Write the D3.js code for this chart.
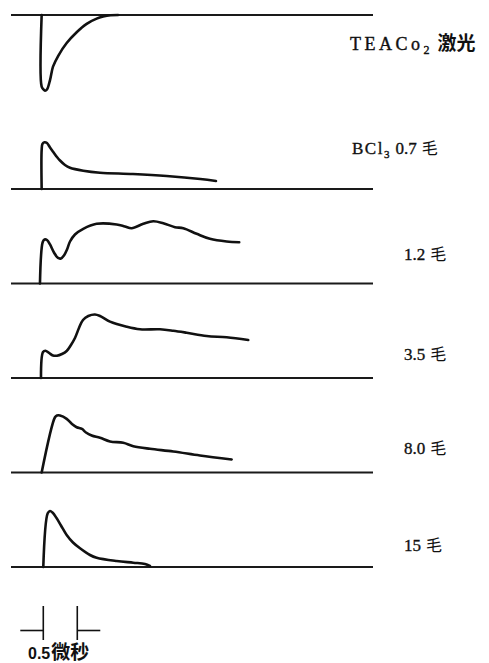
<!DOCTYPE html>
<html>
<head>
<meta charset="utf-8">
<script src="https://cdn.jsdelivr.net/npm/d3@7"></script>
<style>
  body { margin: 0; background: #fff; }
</style>
</head>
<body>
<svg id="svg1"></svg>
<script>
// time in microseconds, amplitude in arbitrary units (0..100)
const laserTrace = [[-0.024,0],[-0.024,-89.6],[0.003,-93.1],[0.025,-94.6],[0.054,-93.1],[0.099,-81.3],
  [0.143,-64.6],[0.22,-51],[0.344,-35],[0.491,-21.5],[0.638,-11],[0.785,-4.5],[0.88,-2],[0.99,-0.4],[1.1,0]];

const trace07 = [[-0.024,0],[-0.024,48.8],[-0.012,56.3],[0.018,58.4],[0.054,57.5],[0.099,51.9],[0.147,46.3],
  [0.201,40],[0.246,35.6],[0.319,30],[0.393,26.6],[0.588,22.9],[0.834,20.4],[1.319,18.8],[1.815,16.3],[2.31,12.5],[2.54,10]];

const trace12 = [[-0.049,0],[-0.009,51.6],[0.018,55],[0.054,54.4],[0.099,48.8],[0.157,38.8],[0.216,31.9],[0.26,31.3],
  [0.304,35],[0.349,42.5],[0.393,52.5],[0.466,61.3],[0.588,68.4],[0.785,74.6],[1.079,73.8],[1.2,71.3],[1.3,69.1],
  [1.471,74.6],[1.618,77.9],[1.765,75.4],[1.937,70.4],[2.059,69.1],[2.256,62.1],[2.451,55.9],[2.697,52.5],[2.882,51.6]];

const trace35 = [[-0.034,0],[-0.004,32.5],[0.032,34.1],[0.084,31.3],[0.143,28.1],[0.201,27.9],[0.275,30],[0.344,33.8],
  [0.407,41.3],[0.466,50],[0.525,62.5],[0.584,72.5],[0.662,77.5],[0.76,79.4],[0.834,77.5],[0.981,70.4],[1.226,64.1],
  [1.422,60.9],[1.716,60.9],[1.912,59.1],[2.109,56.6],[2.403,52.5],[2.697,50.9],[3.015,47.5]];

const trace80 = [[-0.024,0],[0.172,69.1],[0.201,71.3],[0.246,71.3],[0.344,67.1],[0.422,60.6],[0.491,56.6],[0.569,54.4],
  [0.628,50],[0.712,46.3],[0.834,43.4],[0.981,38.8],[1.176,37.1],[1.324,32.9],[1.569,29.6],[1.912,26.3],[2.304,21.3],[2.771,16.3]];

const trace15 = [[0,0],[0.065,67.1],[0.099,70],[0.135,68.1],[0.197,60.9],[0.26,51.9],[0.344,40],[0.437,30.6],[0.54,23.4],
  [0.687,15],[0.785,11.6],[1.079,7.5],[1.324,5.4],[1.496,3.8],[1.569,1.3]];

const pressures = ["0.7", "1.2", "3.5", "8.0", "15"];
const bcl3Traces = [trace07, trace12, trace35, trace80, trace15];
const scaleBarTicks = [0, 0.5];
const scaleBarLabel = ["0.5", "微秒"];

// layout
const width = 489;
const height = 663;
const labelDy = [35, 24, 18, 19, 16];

const svg = d3.select("#svg1")
    .attr("width", width)
    .attr("height", height);

const x = d3.scaleLinear()
    .domain([-0.475, 4.85])
    .range([11, 373]);

const baseY = d3.scalePoint()
    .domain(pressures)
    .range([189, 567]);

const serif = "'Liberation Serif', 'Times New Roman', serif";
const cjk = "'Noto Sans CJK SC', sans-serif";

function drawPanel(base, data) {
    const y = d3.scaleLinear().domain([0, 100]).range([base, base - 80]);

    // baseline
    svg.append("line")
        .attr("x1", x.range()[0]).attr("x2", x.range()[1])
        .attr("y1", base).attr("y2", base)
        .attr("stroke", "#1a1a1a")
        .attr("stroke-width", 2);

    const line = d3.line()
        .x(d => x(d[0]))
        .y(d => y(d[1]))
        .curve(d3.curveCatmullRom.alpha(0.5));

    svg.append("path")
        .datum(data)
        .attr("d", line)
        .attr("fill", "none")
        .attr("stroke", "#111")
        .attr("stroke-width", 2.6)
        .attr("stroke-linejoin", "round")
        .attr("stroke-linecap", "round");
}

// 激光脉冲
drawPanel(15, laserTrace);

const t0 = svg.append("text")
    .attr("x", 350).attr("y", 50)
    .attr("font-family", serif)
    .attr("font-size", 18)
    .attr("fill", "#111")
    .attr("stroke", "#111")
    .attr("stroke-width", 0.4);
t0.append("tspan").attr("letter-spacing", 3.5).text("TEACo");
t0.append("tspan").attr("font-size", 12).attr("dy", 4).text("2");
t0.append("tspan").attr("dy", -4).attr("dx", 8).attr("font-family", cjk).attr("font-size", 19).attr("font-weight", "bold").attr("stroke-width", 0).text("激光");

// BCl3 各压力
pressures.forEach((p, i) => {
    const base = baseY(p);
    drawPanel(base, bcl3Traces[i]);

    const t = svg.append("text")
        .attr("y", base - labelDy[i])
        .attr("font-family", serif)
        .attr("font-size", 17)
        .attr("fill", "#111")
        .attr("stroke", "#111")
        .attr("stroke-width", 0.35);
    if (i === 0) {
        t.attr("x", 352);
        t.append("tspan").attr("letter-spacing", 1.5).text("BCl");
        t.append("tspan").attr("font-size", 11).attr("dy", 4).text("3");
        t.append("tspan").attr("dy", -4).attr("dx", 6).text(p);
    } else {
        t.attr("x", 404);
        t.append("tspan").text(p);
    }
    t.append("tspan").attr("dx", 5).attr("font-family", cjk).attr("font-size", 16).attr("stroke-width", 0).text("毛");
});

// 时间标尺
const bar = svg.append("g")
    .attr("stroke", "#111")
    .attr("stroke-width", 1.6)
    .attr("fill", "none");
bar.append("line").attr("x1", x(scaleBarTicks[0]) - 23).attr("x2", x(scaleBarTicks[0])).attr("y1", 630.5).attr("y2", 630.5);
bar.append("line").attr("x1", x(scaleBarTicks[1])).attr("x2", x(scaleBarTicks[1]) + 23).attr("y1", 630.5).attr("y2", 630.5);
scaleBarTicks.forEach(v => {
    bar.append("line").attr("x1", x(v)).attr("x2", x(v)).attr("y1", 606).attr("y2", 640);
});

const sl = svg.append("text")
    .attr("x", 28).attr("y", 659)
    .attr("font-family", "'Liberation Sans', Arial, sans-serif")
    .attr("font-weight", "bold")
    .attr("font-size", 16)
    .attr("fill", "#111");
sl.append("tspan").text(scaleBarLabel[0]);
sl.append("tspan").attr("dx", 1).attr("font-family", cjk).attr("font-size", 19).text(scaleBarLabel[1]);
</script>
</body>
</html>
